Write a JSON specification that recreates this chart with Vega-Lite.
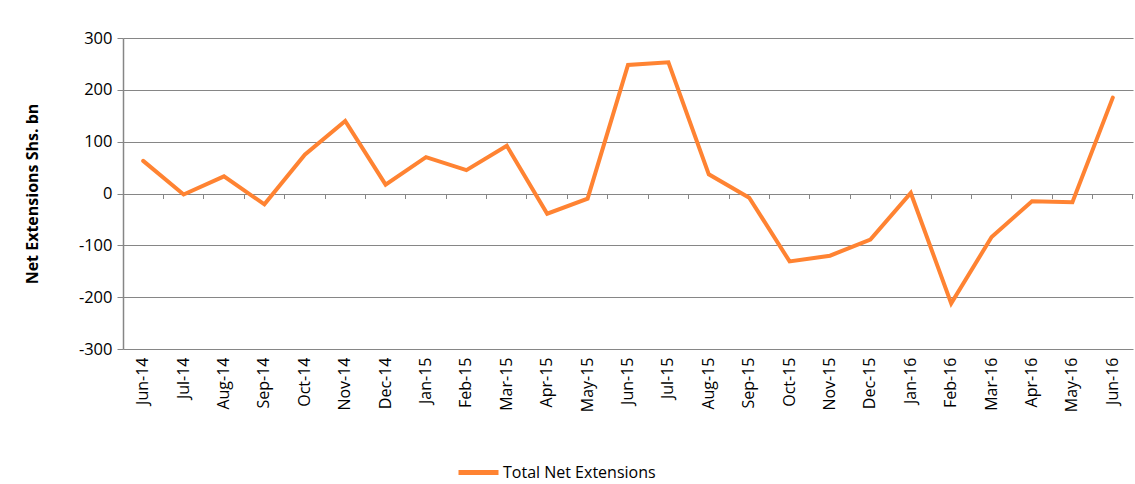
{
  "$schema": "https://vega.github.io/schema/vega-lite/v6.json",
  "autosize": "none",
  "width": 1010,
  "height": 311,
  "padding": {"left": 123, "top": 38, "right": 2, "bottom": 135},
  "background": "white",
  "config": {
    "view": {"stroke": null},
    "font": "Open Sans"
  },
  "data": {
    "values": [
      {"month": "Jun-14", "value": 63},
      {"month": "Jul-14", "value": -2},
      {"month": "Aug-14", "value": 33},
      {"month": "Sep-14", "value": -21},
      {"month": "Oct-14", "value": 75},
      {"month": "Nov-14", "value": 140},
      {"month": "Dec-14", "value": 17},
      {"month": "Jan-15", "value": 70},
      {"month": "Feb-15", "value": 45},
      {"month": "Mar-15", "value": 92},
      {"month": "Apr-15", "value": -39},
      {"month": "May-15", "value": -10},
      {"month": "Jun-15", "value": 248},
      {"month": "Jul-15", "value": 253},
      {"month": "Aug-15", "value": 37},
      {"month": "Sep-15", "value": -8},
      {"month": "Oct-15", "value": -131},
      {"month": "Nov-15", "value": -120},
      {"month": "Dec-15", "value": -89},
      {"month": "Jan-16", "value": 1},
      {"month": "Feb-16", "value": -212},
      {"month": "Mar-16", "value": -84},
      {"month": "Apr-16", "value": -15},
      {"month": "May-16", "value": -17},
      {"month": "Jun-16", "value": 185}
    ]
  },
  "resolve": {"axis": {"x": "independent"}},
  "layer": [
    {
      "mark": {"type": "line", "opacity": 0},
      "encoding": {
        "x": {
          "field": "month", "type": "ordinal", "sort": null,
          "bandPosition": 0.5,
          "scale": {"type": "band", "paddingInner": 0, "paddingOuter": 0},
          "axis": {
            "orient": "bottom", "offset": -155.5, "title": null,
            "labels": false, "grid": false, "domain": false,
            "ticks": true, "bandPosition": 1, "tickExtra": true,
            "tickSize": 5, "tickColor": "#868686", "tickWidth": 1
          }
        },
        "y": {
          "field": "value", "type": "quantitative",
          "scale": {"domain": [-300, 300], "nice": false}
        }
      }
    },
    {
      "mark": {"type": "line", "strokeWidth": 4, "strokeJoin": "miter", "strokeCap": "round"},
      "encoding": {
        "x": {
          "field": "month", "type": "ordinal", "sort": null,
          "bandPosition": 0.5,
          "scale": {"type": "band", "paddingInner": 0, "paddingOuter": 0},
          "axis": {
            "orient": "bottom", "title": null, "labelAngle": -90,
            "labelFontSize": 16, "labelColor": "#000000", "labelPadding": 8,
            "domain": false, "ticks": false, "grid": false
          }
        },
        "y": {
          "field": "value", "type": "quantitative",
          "scale": {"domain": [-300, 300], "nice": false},
          "axis": {
            "values": [-300, -200, -100, 0, 100, 200, 300],
            "labelExpr": "datum.value < 0 ? '-' + abs(datum.value) : '' + datum.value",
            "title": "Net Extensions Shs. bn",
            "titleFontSize": 16, "titleFontWeight": "bold", "titleColor": "#000000",
            "titlePadding": 38,
            "labelFontSize": 16.5, "labelColor": "#000000", "labelPadding": 5,
            "domainColor": "#868686", "domainWidth": 1.5,
            "tickColor": "#868686", "tickSize": 6,
            "gridColor": "#868686", "gridWidth": 1.2
          }
        },
        "color": {
          "datum": "Total Net Extensions",
          "scale": {"range": ["#FF8332"]},
          "legend": {
            "title": null, "orient": "none", "legendX": 333, "legendY": 412,
            "symbolType": "stroke", "symbolStrokeWidth": 5, "symbolSize": 1600,
            "symbolStrokeColor": "#FF8332",
            "labelFontSize": 16, "labelColor": "#000000", "labelOffset": 2
          }
        }
      }
    }
  ]
}
